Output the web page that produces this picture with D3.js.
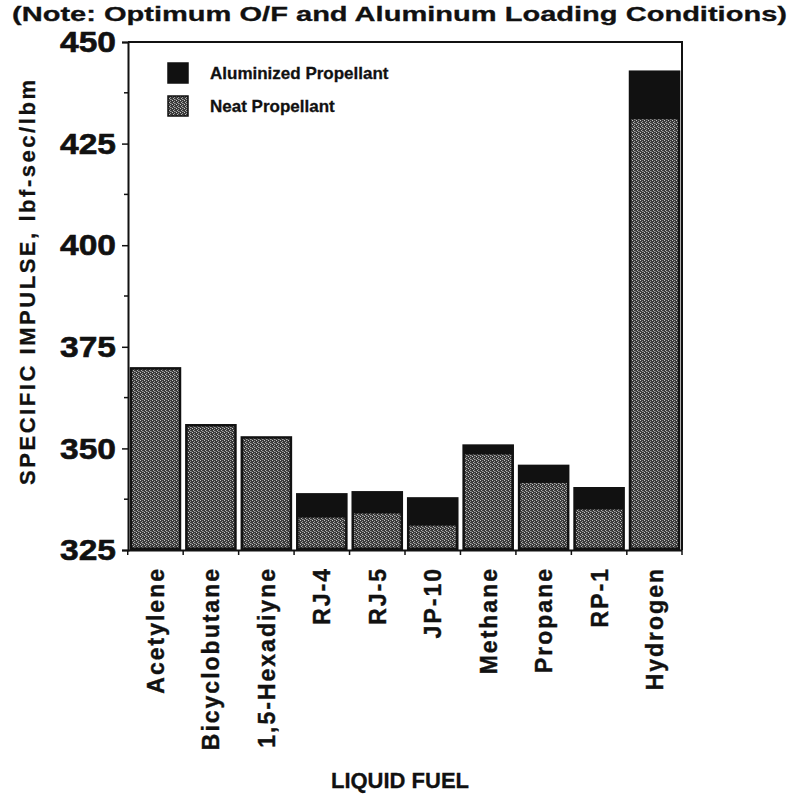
<!DOCTYPE html>
<html>
<head>
<meta charset="utf-8">
<script src="https://cdn.jsdelivr.net/npm/d3@7"></script>
<style>
  html, body { margin: 0; padding: 0; background: #fff; }
  svg { display: block; font-family: "Liberation Sans", Arial, Helvetica, sans-serif; }
</style>
</head>
<body>
<svg id="chart" width="797" height="811"></svg>
<script>
const fuels = ["Acetylene", "Bicyclobutane", "1,5-Hexadiyne", "RJ-4", "RJ-5", "JP-10", "Methane", "Propane", "RP-1", "Hydrogen"];
const aluminized = [370, 356, 353, 339, 339.5, 338, 351, 346, 340.5, 443];
const neat = [370, 356, 353, 333, 334, 331, 348.5, 341.5, 335, 431];
const yTicks = [325, 350, 375, 400, 425, 450];
const seriesNames = ["Aluminized Propellant", "Neat Propellant"];
const titleText = "(Note:  Optimum  O/F  and  Aluminum  Loading  Conditions)";
const yTitle = "SPECIFIC IMPULSE, lbf-sec/lbm";
const xTitle = "LIQUID FUEL";

const svg = d3.select("#chart");
const pL = 128, pR = 682, pT = 42, pB = 550;

// stipple pattern for neat propellant
const defs = svg.append("defs");
const pat = defs.append("pattern").attr("id", "stipple")
  .attr("patternUnits", "userSpaceOnUse").attr("width", 4).attr("height", 4);
pat.append("rect").attr("width", 4).attr("height", 4).attr("fill", "#3a3a3a");
[[0,0,"#c8c8c8"],[2,1,"#9a9a9a"],[1,2,"#b4b4b4"],[3,3,"#7a7a7a"],[2,3,"#a0a0a0"]].forEach(([px,py,c]) =>
  pat.append("rect").attr("x", px).attr("y", py).attr("width", 1).attr("height", 1).attr("fill", c));

const x = d3.scaleBand().domain(fuels).range([pL, pR]).paddingInner(0.07).paddingOuter(0.03);
const y = d3.scaleLinear().domain([325, 450]).range([pB, pT]);

// title
svg.append("text").attr("x", 12).attr("y", 21)
  .attr("font-size", 21).attr("font-weight", "bold").attr("fill", "#111")
  .attr("stroke", "#111").attr("stroke-width", 0.3)
  .attr("textLength", 775).attr("lengthAdjust", "spacingAndGlyphs")
  .text(titleText);

// bars
const data = fuels.map((f, i) => ({ fuel: f, al: aluminized[i], neat: neat[i] }));
const g = svg.append("g");
g.selectAll("rect.al").data(data).join("rect").attr("class", "al")
  .attr("x", d => x(d.fuel)).attr("width", x.bandwidth())
  .attr("y", d => y(d.al)).attr("height", d => y(325) - y(d.al))
  .attr("fill", "#111");
g.selectAll("rect.neat").data(data).join("rect").attr("class", "neat")
  .attr("x", d => x(d.fuel) + 2.5).attr("width", x.bandwidth() - 5)
  .attr("y", d => y(d.neat) + (d.neat === d.al ? 2.5 : 0))
  .attr("height", d => y(325) - y(d.neat) - 2.5 - (d.neat === d.al ? 2.5 : 0))
  .attr("fill", "url(#stipple)");

// frame
svg.append("path").attr("d", `M${pL},${pT}H${pR}V${pB}`)
  .attr("fill", "none").attr("stroke", "#111").attr("stroke-width", 2);

// y axis
const yAxis = d3.axisLeft(y).tickValues(yTicks).tickSize(6).tickPadding(6).tickFormat(d3.format("d"));
const ya = svg.append("g").attr("transform", `translate(${pL},0)`).call(yAxis);
ya.select(".domain").attr("stroke-width", 2).attr("stroke", "#111");
ya.selectAll(".tick line").attr("stroke-width", 1.5).attr("stroke", "#111");
ya.selectAll(".tick text").attr("font-size", 30).attr("font-weight", "bold").attr("fill", "#111")
  .attr("stroke", "#111").attr("stroke-width", 0.6)
  .attr("font-family", "Liberation Sans, Arial, sans-serif").attr("textLength", 56).attr("lengthAdjust", "spacingAndGlyphs");
const minor = d3.range(337.5, 450, 25);
svg.append("g").selectAll("line").data(minor).join("line")
  .attr("x1", pL - 4).attr("x2", pL).attr("y1", d => y(d)).attr("y2", d => y(d))
  .attr("stroke", "#111").attr("stroke-width", 1.5);

// x axis
const xa = svg.append("g").attr("transform", `translate(0,${pB})`)
  .call(d3.axisBottom(x).tickSize(0).tickPadding(0).tickFormat(""));
xa.select(".domain").attr("stroke", "#111").attr("stroke-width", 2).attr("d", `M${pL},0.5H${pR}`);
const bounds = fuels.map(f => x(f) - x.step() * x.paddingInner() / 2).concat([pR]);
svg.append("g").selectAll("line").data(bounds).join("line")
  .attr("x1", d => d).attr("x2", d => d).attr("y1", pB).attr("y2", pB + 5)
  .attr("stroke", "#111").attr("stroke-width", 1.5);
svg.append("g").selectAll("text").data(fuels).join("text")
  .attr("transform", d => `translate(${x(d) + x.bandwidth() / 2 + 8.5},${pB + 17}) rotate(-90)`)
  .attr("text-anchor", "end").attr("font-size", 23).attr("font-weight", "bold")
  .attr("letter-spacing", 2).attr("fill", "#111").attr("stroke", "#111").attr("stroke-width", 0.4)
  .text(d => d);

// axis titles
svg.append("text").attr("transform", `translate(35,${(80 + 485) / 2}) rotate(-90)`)
  .attr("text-anchor", "middle").attr("font-size", 22).attr("font-weight", "bold")
  .attr("textLength", 405).attr("lengthAdjust", "spacing").attr("fill", "#111")
  .attr("stroke", "#111").attr("stroke-width", 0.3)
  .text(yTitle);
svg.append("text").attr("x", 400).attr("y", 788).attr("text-anchor", "middle")
  .attr("font-size", 22).attr("font-weight", "bold").attr("fill", "#111")
  .attr("stroke", "#111").attr("stroke-width", 0.3)
  .text(xTitle);

// legend
const legend = svg.append("g");
const swatch = ["#111", "url(#stipple)"];
seriesNames.forEach((s, i) => {
  const ly = 63 + i * 33;
  legend.append("rect").attr("x", 168).attr("y", ly).attr("width", 20).attr("height", 20)
    .attr("fill", swatch[i]).attr("stroke", "#111").attr("stroke-width", 1.5);
  legend.append("text").attr("x", 210).attr("y", ly + 16).attr("font-size", 17).attr("font-weight", "bold")
    .attr("fill", "#111").attr("stroke", "#111").attr("stroke-width", 0.3).text(s);
});
</script>
</body>
</html>
